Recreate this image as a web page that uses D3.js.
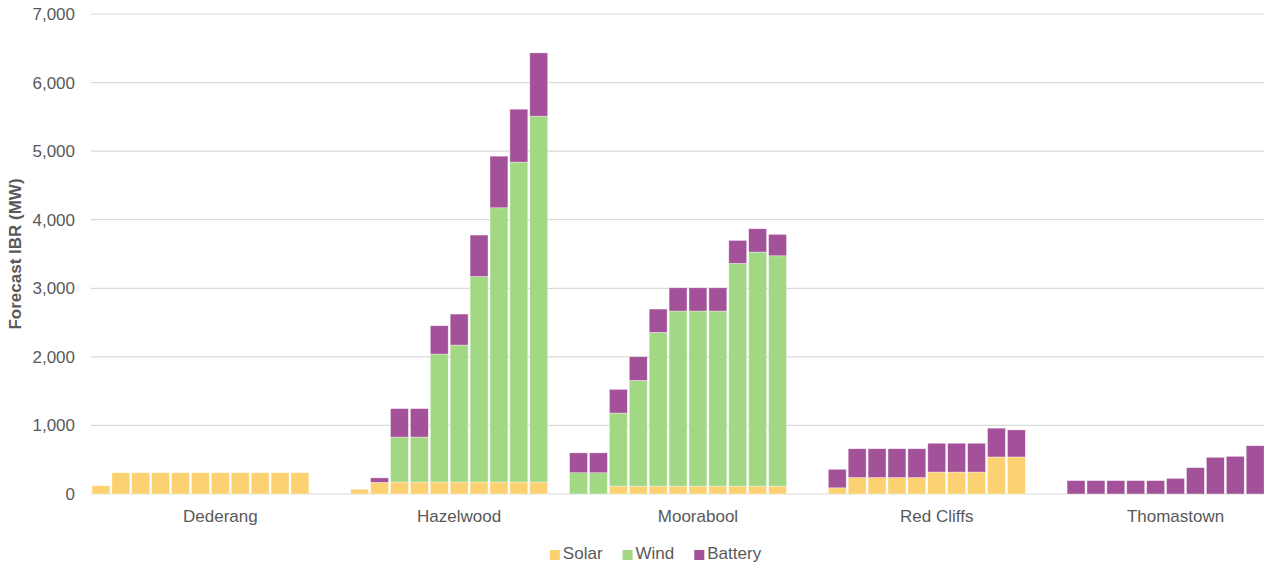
<!DOCTYPE html>
<html>
<head>
<meta charset="utf-8">
<script src="https://cdn.jsdelivr.net/npm/d3@7"></script>
<style>
  html, body { margin: 0; padding: 0; background: #ffffff; }
  svg { display: block; font-family: "Liberation Sans", Arial, sans-serif; }
</style>
</head>
<body>
<svg id="chart" width="1264" height="567"></svg>
<script>
// ---- data ----
const groups = ["Dederang", "Hazelwood", "Moorabool", "Red Cliffs", "Thomastown"];
const periodsPerGroup = 12;
const seriesNames = ["Solar", "Wind", "Battery"];
const seriesColors = ["#FCD171", "#A2D884", "#A35299"];
const yTicks = [0, 1000, 2000, 3000, 4000, 5000, 6000, 7000];

// 12 periods per location
const solar = [
  // Dederang
  120, 310, 310, 310, 310, 310, 310, 310, 310, 310, 310, 0,
  // Hazelwood
  0, 70, 170, 175, 175, 175, 175, 175, 175, 175, 175, 0,
  // Moorabool
  0, 0, 115, 115, 115, 115, 115, 115, 115, 115, 115, 0,
  // Red Cliffs
  0, 90, 240, 240, 240, 240, 320, 320, 320, 540, 540, 0,
  // Thomastown
  0, 0, 0, 0, 0, 0, 0, 0, 0, 0, 0, 0
];
const wind = [
  // Dederang
  0, 0, 0, 0, 0, 0, 0, 0, 0, 0, 0, 0,
  // Hazelwood
  0, 0, 0, 655, 655, 1866, 1997, 2998, 3999, 4665, 5335, 0,
  // Moorabool
  310, 310, 1066, 1542, 2242, 2553, 2553, 2553, 3248, 3413, 3359, 0,
  // Red Cliffs
  0, 0, 0, 0, 0, 0, 0, 0, 0, 0, 0, 0,
  // Thomastown
  0, 0, 0, 0, 0, 0, 0, 0, 0, 0, 0, 0
];
const battery = [
  // Dederang
  0, 0, 0, 0, 0, 0, 0, 0, 0, 0, 0, 0,
  // Hazelwood
  0, 0, 65, 415, 415, 413, 452, 603, 753, 772, 923, 0,
  // Moorabool
  290, 290, 345, 345, 340, 339, 339, 339, 335, 340, 312, 0,
  // Red Cliffs
  0, 270, 420, 420, 420, 420, 420, 420, 420, 420, 395, 0,
  // Thomastown
  0, 195, 195, 195, 195, 195, 228, 384, 535, 549, 704, 0
];
</script>
<script>
(function () {
const svg = d3.select("#chart");
const textColor = "#595959";
const gridColor = "#D9D9D9";
const fontSize = 17;

const nSlots = groups.length * periodsPerGroup;
const slotStep = 19.9;
const plotLeft = 91, plotTop = 14, plotBottom = 494;

const slots = d3.range(nSlots);
const x = d3.scaleBand()
  .domain(slots)
  .range([plotLeft, plotLeft + nSlots * slotStep])
  .paddingInner(0.1)
  .paddingOuter(0.05);

const y = d3.scaleLinear().domain([0, 7000]).range([plotBottom, plotTop]);

// gridlines
svg.append("g").selectAll("line").data(yTicks).join("line")
  .attr("x1", plotLeft).attr("x2", 1264)
  .attr("y1", d => y(d)).attr("y2", d => y(d))
  .attr("stroke", gridColor).attr("stroke-width", 1.2);

// y axis labels
const yAxis = d3.axisLeft(y).tickValues(yTicks).tickFormat(d3.format(",")).tickSize(0).tickPadding(0);
const yg = svg.append("g").attr("transform", `translate(${plotLeft - 16},0)`).call(yAxis);
yg.select(".domain").remove();
yg.selectAll("text").attr("fill", textColor).attr("font-size", fontSize)
  .attr("font-family", '"Liberation Sans", Arial, sans-serif');

// y title
svg.append("text")
  .attr("transform", `translate(21,${(plotTop + plotBottom) / 2}) rotate(-90)`)
  .attr("text-anchor", "middle")
  .attr("font-size", fontSize).attr("font-weight", "bold").attr("fill", textColor)
  .text("Forecast IBR (MW)");

// stack
const rows = slots.map(i => ({ slot: i, Solar: solar[i], Wind: wind[i], Battery: battery[i] }));
const stacked = d3.stack().keys(seriesNames)(rows);

svg.append("g").selectAll("g").data(stacked).join("g")
  .attr("fill", (d, i) => seriesColors[i])
  .selectAll("rect").data(d => d.filter(s => s[1] - s[0] > 0)).join("rect")
  .attr("x", d => x(d.data.slot))
  .attr("width", x.bandwidth())
  .attr("y", d => y(d[1]))
  .attr("height", d => y(d[0]) - y(d[1]))
  .attr("stroke", "#ffffff").attr("stroke-opacity", 0.6).attr("stroke-width", 0.6);

// category labels
svg.append("g").selectAll("text").data(groups).join("text")
  .attr("x", (d, k) => x(k * periodsPerGroup + 6) + x.bandwidth() / 2)
  .attr("y", 522)
  .attr("text-anchor", "middle")
  .attr("font-size", fontSize).attr("fill", textColor)
  .text(d => d);

// legend
const legend = svg.append("g");
const items = legend.selectAll("g").data(seriesNames).join("g");
items.append("rect").attr("width", 10).attr("height", 10).attr("y", -9)
  .attr("fill", (d, i) => seriesColors[i]);
items.append("text").attr("x", 13).attr("y", 0)
  .attr("font-size", fontSize).attr("fill", textColor).text(d => d);
let cx = 0;
items.each(function () {
  const g = d3.select(this);
  const w = 13 + g.select("text").node().getComputedTextLength();
  g.attr("transform", `translate(${cx},0)`);
  cx += w + 20;
});
const totalW = cx - 20;
legend.attr("transform", `translate(${655.5 - totalW / 2},559)`);
})();
</script>
</body>
</html>
